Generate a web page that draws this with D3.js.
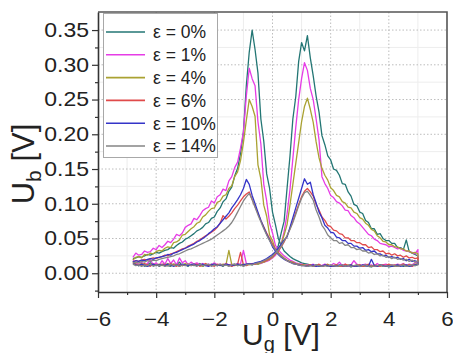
<!DOCTYPE html>
<html><head><meta charset="utf-8">
<script src="https://cdn.jsdelivr.net/npm/d3@7"></script>
<style>body{margin:0;background:#fff}svg{display:block;font-family:"Liberation Sans",Arial,sans-serif}</style>
</head><body><svg id="c" width="453" height="353"></svg>
<script>
// gate voltage grid (V)
const xs=[-4.8,-4.7,-4.6,-4.5,-4.4,-4.3,-4.2,-4.1,-4.0,-3.9,
-3.8,-3.7,-3.6,-3.5,-3.4,-3.3,-3.2,-3.1,-3.0,-2.9,
-2.8,-2.7,-2.6,-2.5,-2.4,-2.3,-2.2,-2.1,-2.0,-1.9,
-1.8,-1.7,-1.6,-1.5,-1.4,-1.3,-1.2,-1.1,-1.0,-0.9,
-0.8,-0.7,-0.6,-0.5,-0.4,-0.3,-0.2,-0.1,0.0,0.1,
0.2,0.3,0.4,0.5,0.6,0.7,0.8,0.9,1.0,1.1,
1.2,1.3,1.4,1.5,1.6,1.7,1.8,1.9,2.0,2.1,
2.2,2.3,2.4,2.5,2.6,2.7,2.8,2.9,3.0,3.1,
3.2,3.3,3.4,3.5,3.6,3.7,3.8,3.9,4.0,4.1,
4.2,4.3,4.4,4.5,4.6,4.7,4.8,4.9,5.0];
const labels=["ε = 0%","ε = 1%","ε = 4%","ε = 6%","ε = 10%","ε = 14%"];
const colors=["#237674","#e63ce6","#aaa232","#e04a4a","#3434c8","#858585"];
// forward sweeps (Ub in V), ascending Ug
const fwd0=[.018,.014,.011,.013,.010,.012,.015,.011,.013,.010,
.012,.014,.011,.010,.013,.012,.016,.011,.012,.010,
.013,.011,.012,.014,.010,.012,.011,.013,.012,.011,
.012,.010,.013,.011,.012,.013,.011,.012,.013,.012,
.013,.012,.014,.013,.015,.016,.018,.020,.024,.030,
.040,.058,.075,.122,.168,.222,.254,.305,.332,.320,
.342,.310,.284,.255,.232,.198,.185,.169,.163,.150,
.148,.141,.129,.128,.117,.111,.099,.097,.088,.086,
.076,.073,.064,.064,.056,.057,.050,.047,.047,.043,
.043,.037,.037,.034,.048,.031,.029,.027,.025];
const fwd1=[.020,.015,.012,.016,.011,.014,.019,.012,.015,.011,
.018,.013,.021,.014,.019,.012,.022,.015,.018,.012,
.016,.013,.015,.012,.014,.011,.013,.012,.015,.012,
.013,.012,.014,.012,.013,.012,.014,.013,.033,.014,
.013,.014,.013,.015,.014,.016,.017,.019,.022,.026,
.032,.042,.060,.085,.120,.165,.210,.250,.280,.303,
.292,.266,.250,.222,.192,.139,.129,.122,.112,.109,
.103,.101,.097,.091,.090,.083,.080,.074,.071,.066,
.061,.056,.054,.049,.047,.043,.042,.041,.038,.039,
.037,.035,.036,.033,.032,.031,.030,.028,.034];
const fwd2=[.016,.013,.011,.014,.012,.010,.013,.012,.011,.013,
.011,.012,.014,.011,.013,.012,.010,.012,.014,.011,
.012,.013,.011,.012,.010,.013,.012,.011,.013,.012,
.011,.013,.012,.033,.012,.011,.013,.012,.011,.013,
.012,.013,.014,.013,.015,.016,.018,.020,.023,.028,
.033,.042,.055,.070,.098,.128,.158,.188,.218,.240,
.252,.236,.217,.189,.166,.151,.141,.134,.123,.119,
.112,.110,.103,.101,.095,.094,.088,.086,.080,.078,
.072,.069,.063,.061,.054,.051,.046,.045,.041,.041,
.038,.038,.035,.035,.032,.032,.029,.030,.028];
const fwd3=[.015,.012,.013,.011,.014,.012,.010,.013,.012,.011,
.013,.012,.011,.014,.012,.010,.013,.011,.012,.013,
.011,.012,.013,.010,.012,.014,.011,.012,.010,.013,
.012,.011,.013,.012,.010,.012,.013,.030,.012,.011,
.013,.014,.013,.015,.016,.017,.019,.021,.024,.028,
.032,.038,.045,.054,.064,.075,.087,.099,.110,.118,
.122,.117,.111,.099,.091,.081,.076,.069,.067,.062,
.061,.057,.056,.051,.051,.047,.047,.044,.044,.041,
.041,.037,.038,.034,.034,.031,.032,.028,.029,.026,
.028,.025,.026,.023,.025,.022,.023,.021,.022];
const fwd4=[.014,.012,.011,.013,.012,.010,.012,.013,.011,.012,
.012,.011,.013,.012,.010,.012,.011,.013,.012,.011,
.012,.013,.011,.012,.013,.011,.010,.012,.013,.011,
.012,.011,.013,.012,.011,.012,.013,.011,.012,.013,
.014,.013,.015,.016,.017,.019,.021,.024,.027,.031,
.036,.042,.048,.052,.066,.080,.094,.108,.122,.136,
.128,.131,.113,.101,.088,.080,.069,.065,.059,.058,
.052,.051,.047,.047,.043,.043,.039,.039,.036,.037,
.033,.034,.031,.032,.028,.028,.025,.026,.023,.024,
.022,.023,.020,.021,.018,.020,.017,.018,.016];
const fwd5=[.013,.011,.012,.010,.012,.011,.013,.010,.012,.011,
.012,.010,.011,.013,.011,.012,.010,.012,.011,.013,
.011,.012,.010,.013,.011,.012,.013,.010,.012,.011,
.013,.011,.012,.010,.012,.013,.011,.012,.010,.012,
.013,.012,.014,.015,.016,.018,.020,.022,.025,.029,
.033,.039,.046,.054,.063,.073,.085,.097,.108,.116,
.118,.112,.105,.091,.081,.069,.063,.055,.051,.047,
.047,.043,.044,.040,.041,.037,.037,.034,.035,.032,
.032,.029,.030,.027,.028,.025,.026,.023,.024,.021,
.023,.020,.021,.019,.020,.017,.019,.016,.018];
// backward sweeps (Ub in V), listed in ascending Ug
const bwd0=[.021,.022,.024,.023,.025,.027,.026,.028,.030,.029,
.031,.033,.034,.037,.036,.040,.043,.045,.049,.051,
.054,.057,.061,.063,.066,.071,.073,.079,.081,.089,
.094,.103,.107,.118,.124,.140,.151,.172,.203,.270,
.318,.350,.322,.288,.222,.190,.143,.122,.088,.070,
.050,.040,.032,.028,.024,.021,.019,.017,.015,.014,
.013,.012,.011,.012,.010,.011,.012,.010,.011,.010,
.011,.010,.012,.010,.011,.009,.011,.010,.012,.010,
.011,.010,.009,.011,.010,.012,.010,.011,.009,.010,
.011,.010,.012,.010,.011,.010,.012,.011,.013];
const bwd1=[.023,.029,.026,.027,.032,.030,.031,.036,.034,.040,
.037,.041,.046,.044,.049,.056,.054,.058,.066,.069,
.071,.079,.077,.083,.090,.093,.095,.104,.101,.110,
.113,.121,.119,.133,.139,.152,.160,.180,.203,.255,
.295,.280,.270,.218,.186,.128,.104,.072,.058,.040,
.034,.029,.025,.022,.019,.017,.015,.014,.013,.012,
.012,.011,.013,.010,.012,.011,.013,.012,.011,.014,
.012,.016,.011,.013,.010,.012,.018,.013,.011,.012,
.013,.011,.012,.010,.014,.011,.012,.013,.011,.012,
.011,.013,.012,.014,.011,.013,.012,.015,.016];
const bwd2=[.019,.023,.024,.022,.027,.026,.029,.028,.031,.033,
.032,.036,.038,.037,.044,.045,.048,.055,.056,.060,
.064,.067,.072,.074,.081,.084,.089,.093,.094,.102,
.104,.111,.113,.122,.126,.139,.146,.162,.188,.220,
.250,.240,.226,.156,.136,.098,.082,.055,.047,.034,
.030,.026,.022,.019,.017,.016,.014,.013,.012,.012,
.011,.012,.010,.011,.012,.010,.011,.013,.010,.011,
.012,.010,.011,.010,.012,.011,.010,.012,.011,.010,
.011,.012,.010,.011,.010,.012,.011,.010,.012,.011,
.010,.012,.011,.013,.010,.012,.011,.013,.014];
const bwd3=[.016,.018,.017,.019,.020,.019,.021,.022,.021,.023,
.024,.026,.025,.028,.029,.031,.033,.035,.036,.039,
.041,.043,.046,.048,.051,.054,.056,.059,.062,.066,
.072,.083,.078,.082,.087,.093,.098,.104,.110,.114,
.117,.106,.096,.086,.076,.067,.058,.050,.042,.035,
.029,.024,.021,.018,.016,.015,.013,.012,.012,.011,
.011,.012,.010,.011,.013,.010,.011,.012,.010,.011,
.012,.011,.010,.013,.011,.012,.010,.011,.012,.010,
.011,.013,.010,.012,.011,.010,.012,.011,.013,.011,
.012,.010,.011,.013,.011,.012,.010,.012,.013];
const bwd4=[.016,.018,.017,.019,.018,.020,.021,.020,.022,.023,
.024,.025,.027,.026,.029,.030,.032,.034,.036,.038,
.040,.042,.045,.047,.050,.053,.057,.060,.064,.067,
.072,.077,.082,.087,.094,.100,.106,.113,.122,.135,
.128,.112,.100,.088,.076,.066,.056,.048,.038,.032,
.027,.023,.020,.018,.016,.014,.013,.012,.011,.011,
.010,.011,.012,.010,.011,.010,.012,.011,.010,.011,
.010,.012,.011,.010,.011,.012,.010,.011,.010,.012,
.011,.010,.020,.011,.010,.012,.011,.010,.011,.010,
.011,.012,.010,.011,.012,.010,.011,.012,.013];
const bwd5=[.015,.016,.015,.017,.016,.018,.017,.019,.018,.020,
.021,.022,.023,.024,.025,.027,.028,.030,.032,.034,
.035,.037,.039,.041,.043,.045,.047,.049,.052,.055,
.058,.061,.064,.068,.073,.080,.088,.096,.104,.110,
.115,.106,.095,.084,.074,.064,.055,.047,.040,.034,
.028,.024,.021,.018,.016,.014,.013,.012,.011,.011,
.010,.011,.010,.012,.011,.010,.011,.010,.012,.011,
.010,.011,.012,.010,.011,.010,.011,.012,.010,.011,
.012,.010,.011,.010,.011,.012,.010,.011,.010,.012,
.011,.010,.011,.012,.010,.011,.012,.011,.012];
const xTicks=[-6,-4,-2,0,2,4,6];
const xMinor=[-5,-3,-1,1,3,5];
const yTicks=[0,0.05,0.10,0.15,0.20,0.25,0.30,0.35];
const yMinor=[-0.025,0.025,0.075,0.125,0.175,0.225,0.275,0.325];

const fwd=[fwd0,fwd1,fwd2,fwd3,fwd4,fwd5];
const bwd=[bwd0,bwd1,bwd2,bwd3,bwd4,bwd5];

const L=98,R=447,T=12,B=292;
const svg=d3.select("#c");
const x=d3.scaleLinear().domain([-6,6]).range([L,R]);
const y=d3.scaleLinear().domain([-0.027,0.376]).range([B,T]);

// grid
const g=svg.append("g");
g.selectAll(".gxm").data(xMinor).join("line").attr("x1",d=>x(d)).attr("x2",d=>x(d)).attr("y1",T).attr("y2",B).attr("stroke","#ededed").attr("stroke-width",1);
g.selectAll(".gym").data(yMinor.filter(v=>v>0)).join("line").attr("y1",d=>y(d)).attr("y2",d=>y(d)).attr("x1",L).attr("x2",R).attr("stroke","#ededed").attr("stroke-width",1);
g.selectAll(".gx").data(xTicks.slice(1,-1)).join("line").attr("x1",d=>x(d)).attr("x2",d=>x(d)).attr("y1",T).attr("y2",B).attr("stroke","#bdbdbd").attr("stroke-width",1).attr("stroke-dasharray","1.5,2");
g.selectAll(".gy").data(yTicks).join("line").attr("y1",d=>y(d)).attr("y2",d=>y(d)).attr("x1",L).attr("x2",R).attr("stroke","#bdbdbd").attr("stroke-width",1).attr("stroke-dasharray","1.5,2");

// data
const line=d3.line().x(d=>x(d[0])).y(d=>y(d[1]));
fwd.forEach((f,k)=>{
  const pts=xs.map((v,i)=>[v,f[i]]).concat(xs.map((v,i)=>[v,bwd[k][i]]).reverse());
  svg.append("path").datum(pts).attr("d",line).attr("fill","none").attr("stroke",colors[k]).attr("stroke-width",1.3).attr("stroke-linejoin","round");
});

// frame
svg.append("path").attr("d",`M${L},${T}H${R}V${B}`).attr("fill","none").attr("stroke","#555").attr("stroke-width",1.6);

// axes
const ax=svg.append("g").attr("transform",`translate(0,${B})`)
  .call(d3.axisBottom(x).tickValues(xTicks).tickSize(6).tickSizeOuter(0).tickPadding(14).tickFormat(d=>d3.format("")(d).replace("-","\u2212")));
svg.append("g").attr("transform",`translate(0,${B})`).call(d3.axisBottom(x).tickValues(xMinor).tickSize(3).tickSizeOuter(0).tickFormat("")).select(".domain").remove();
const ay=svg.append("g").attr("transform",`translate(${L},0)`)
  .call(d3.axisLeft(y).tickValues(yTicks).tickSize(6).tickSizeOuter(0).tickFormat(d3.format(".2f")));
svg.append("g").attr("transform",`translate(${L},0)`).call(d3.axisLeft(y).tickValues(yMinor).tickSize(3).tickSizeOuter(0).tickFormat("")).select(".domain").remove();
svg.selectAll(".domain").attr("stroke","#333").attr("stroke-width",1.6);
svg.selectAll(".tick line").attr("stroke","#333").attr("stroke-width",1.2);
ax.selectAll("text").attr("font-size",20).attr("fill","#222").attr("font-family","Liberation Sans, Arial, sans-serif").attr("transform","scale(1.12,1)");
ay.selectAll("text").attr("font-size",20).attr("fill","#222").attr("font-family","Liberation Sans, Arial, sans-serif")
  .attr("x",0).attr("transform","translate(-9,0) scale(1.15,1)");

// titles
const tx=svg.append("text").attr("x",281).attr("y",345).attr("text-anchor","middle").attr("font-size",30).attr("fill","#222");
tx.append("tspan").text("U");
tx.append("tspan").attr("font-size",20).attr("dy",6).text("g");
tx.append("tspan").attr("dy",-6).text(" [V]");
const ty=svg.append("text").attr("transform","translate(34,164) rotate(-90)").attr("text-anchor","middle").attr("font-size",31).attr("fill","#222");
ty.append("tspan").text("U");
ty.append("tspan").attr("font-size",21).attr("dy",7).text("b");
ty.append("tspan").attr("dy",-7).text(" [V]");

// legend
const lg=svg.append("g");
lg.append("rect").attr("x",103.5).attr("y",13.5).attr("width",114).attr("height",144).attr("fill","#fff").attr("stroke","#a8a8a8").attr("stroke-width",1);
labels.forEach((lab,k)=>{
  const yy=32+22.8*k;
  lg.append("line").attr("x1",106).attr("x2",145).attr("y1",yy).attr("y2",yy).attr("stroke",colors[k]).attr("stroke-width",1.6);
  lg.append("text").attr("x",153).attr("y",yy).attr("dy","0.36em").attr("font-size",17.5).attr("fill","#222").text(lab);
});
</script></body></html>
